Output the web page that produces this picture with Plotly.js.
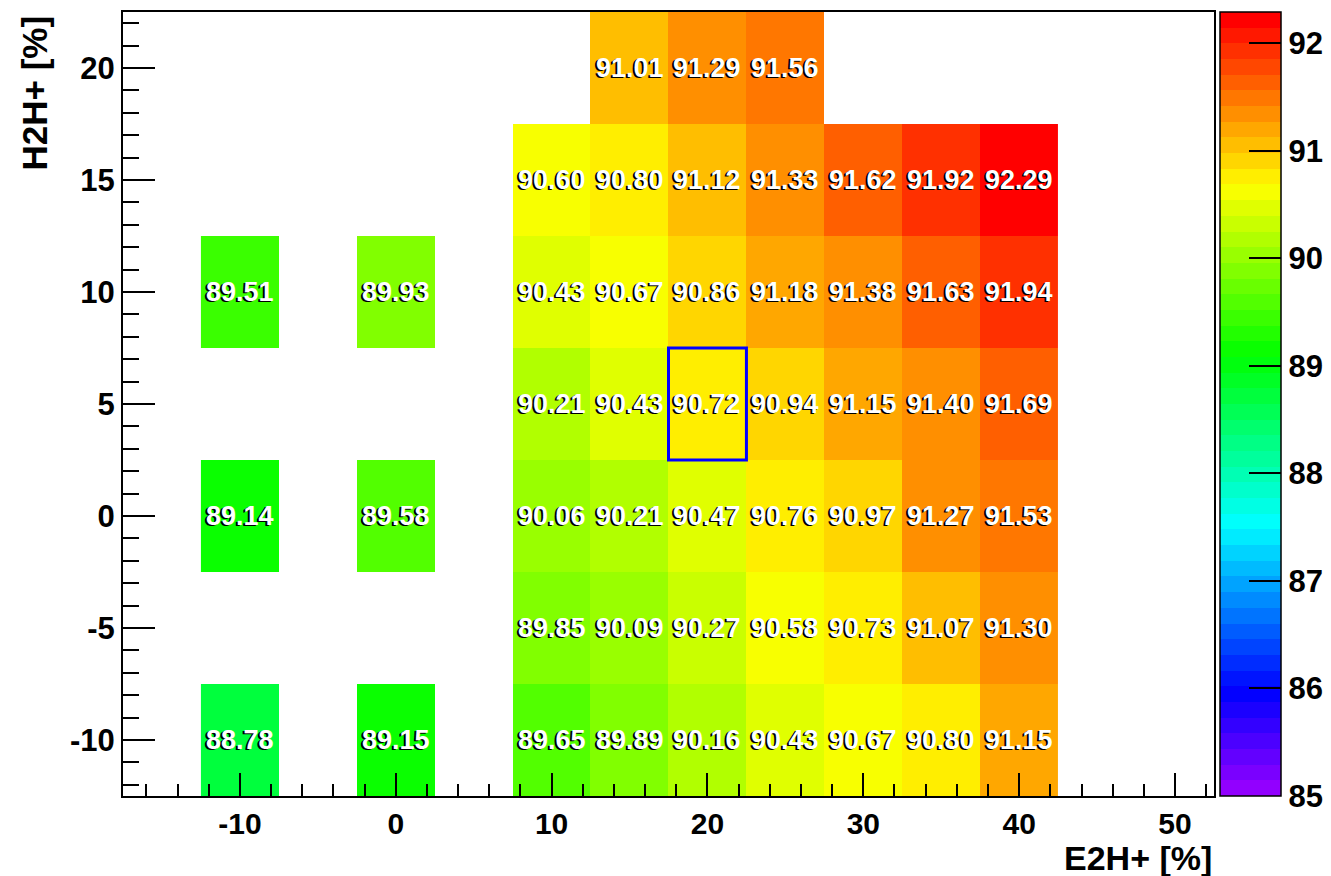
<!DOCTYPE html>
<html>
<head>
<meta charset="utf-8">
<script src="https://cdn.plot.ly/plotly-3.0.1.min.js"></script>
<style>html,body{margin:0;padding:0;background:#fff;}#chart{width:1331px;height:876px;}</style>
</head>
<body>
<div id="chart"></div>
<script>
// E2H+ [%] bin centres
const xVals = [-10, -5, 0, 5, 10, 15, 20, 25, 30, 35, 40];
// H2H+ [%] bin centres
const yVals = [-10, -5, 0, 5, 10, 15, 20];
// values per row (y), columns follow xVals
const rowM10 = [88.78, null, 89.15, null, 89.65, 89.89, 90.16, 90.43, 90.67, 90.80, 91.15];
const rowM5  = [null, null, null, null, 89.85, 90.09, 90.27, 90.58, 90.73, 91.07, 91.30];
const row0   = [89.14, null, 89.58, null, 90.06, 90.21, 90.47, 90.76, 90.97, 91.27, 91.53];
const row5   = [null, null, null, null, 90.21, 90.43, 90.72, 90.94, 91.15, 91.40, 91.69];
const row10  = [89.51, null, 89.93, null, 90.43, 90.67, 90.86, 91.18, 91.38, 91.63, 91.94];
const row15  = [null, null, null, null, 90.60, 90.80, 91.12, 91.33, 91.62, 91.92, 92.29];
const row20  = [null, null, null, null, null, 91.01, 91.29, 91.56, null, null, null];
const zRows = [rowM10, rowM5, row0, row5, row10, row15, row20];
// highlighted cell
const markX = 20, markY = 5;
const xTickVals = [-10, 0, 10, 20, 30, 40, 50];
const xTickText = ['-10', '0', '10', '20', '30', '40', '50'];
const yTickVals = [-10, -5, 0, 5, 10, 15, 20];
const yTickText = ['-10', '-5', '0', '5', '10', '15', '20'];
const zTickVals = [85, 86, 87, 88, 89, 90, 91, 92];
const zMin = 85, zMax = 92.29;

// ROOT "pretty" palette: 50 colours, hue 280 -> 0
function hsl2rgb(h, s, l) {
  const c = (1 - Math.abs(2 * l - 1)) * s;
  const hp = h / 60;
  const x = c * (1 - Math.abs(hp % 2 - 1));
  let r = 0, g = 0, b = 0;
  if (hp < 1) { r = c; g = x; }
  else if (hp < 2) { r = x; g = c; }
  else if (hp < 3) { g = c; b = x; }
  else if (hp < 4) { g = x; b = c; }
  else if (hp < 5) { r = x; b = c; }
  else { r = c; b = x; }
  const m = l - c / 2;
  return 'rgb(' + Math.round((r + m) * 255) + ',' + Math.round((g + m) * 255) + ',' + Math.round((b + m) * 255) + ')';
}
const nCol = 50;
const colorscale = [];
for (let i = 0; i < nCol; i++) {
  const hue = 280 - (i + 1) * (280 / nCol);
  const c = hsl2rgb(hue, 1, 0.5);
  colorscale.push([i / nCol, c]);
  colorscale.push([(i + 1) / nCol, c]);
}

const fontFam = '"Liberation Sans", Arial, Helvetica, sans-serif';

const trace = {
  type: 'heatmap',
  x: xVals, y: yVals, z: zRows,
  colorscale: colorscale,
  zmin: zMin, zmax: zMax,
  hoverongaps: false,
  colorbar: {
    x: 1.0055, xanchor: 'left', xpad: 0, ypad: 0,
    y: 0.5, yanchor: 'middle',
    len: 784, lenmode: 'pixels',
    thickness: 61, thicknessmode: 'pixels',
    outlinewidth: 1.5, outlinecolor: '#000',
    ticks: 'inside', ticklen: 32, tickwidth: 2, tickcolor: '#000',
    tickvals: zTickVals,
    tickfont: {family: fontFam, size: 31, color: '#000', weight: 'bold'}
  }
};

const annotations = [];
for (let r = 0; r < yVals.length; r++) {
  for (let c = 0; c < xVals.length; c++) {
    const v = zRows[r][c];
    if (v === null) continue;
    const t = v.toFixed(2);
    annotations.push({x: xVals[c], y: yVals[r], xref: 'x', yref: 'y', text: t, showarrow: false,
      xshift: -2, yshift: -1,
      font: {family: fontFam, size: 27, color: '#000', weight: 'bold'}});
    annotations.push({x: xVals[c], y: yVals[r], xref: 'x', yref: 'y', text: t, showarrow: false,
      font: {family: fontFam, size: 27, color: '#fff', weight: 'bold'}});
  }
}
annotations.push({xref: 'paper', yref: 'paper', x: 1, y: 0, xanchor: 'right', yanchor: 'middle', yshift: -62,
  text: 'E2H+ [%]', showarrow: false, font: {family: fontFam, size: 34, color: '#000', weight: 'bold'}});
annotations.push({xref: 'paper', yref: 'paper', x: 0, y: 1, xanchor: 'center', yanchor: 'top', xshift: -89, yshift: -2,
  textangle: -90, text: 'H2H+ [%]', showarrow: false, font: {family: fontFam, size: 35, color: '#000', weight: 'bold'}});

const layout = {
  width: 1331, height: 876,
  margin: {l: 123, r: 117, t: 12, b: 80, pad: 0, autoexpand: false},
  paper_bgcolor: '#fff', plot_bgcolor: '#fff',
  font: {family: fontFam, color: '#000'},
  showlegend: false,
  xaxis: {
    range: [-17.5, 52.5], tickvals: xTickVals, ticktext: xTickText, ticks: 'inside', ticklen: 23, tickwidth: 2, tickcolor: '#000',
    minor: {dtick: 2, tick0: 0, ticks: 'inside', ticklen: 12, tickwidth: 2, tickcolor: '#000'},
    showgrid: false, zeroline: false, showline: true, mirror: true, linecolor: '#000', linewidth: 2,
    tickfont: {family: fontFam, size: 30, color: '#000', weight: 'bold'}, fixedrange: true, automargin: false
  },
  yaxis: {
    range: [-12.5, 22.5], tickvals: yTickVals, ticktext: yTickText, ticks: 'inside', ticklen: 32, tickwidth: 2, tickcolor: '#000',
    minor: {dtick: 1, tick0: 0, ticks: 'inside', ticklen: 16, tickwidth: 2, tickcolor: '#000'},
    showgrid: false, zeroline: false, showline: true, mirror: true, linecolor: '#000', linewidth: 2,
    tickfont: {family: fontFam, size: 31, color: '#000', weight: 'bold'}, fixedrange: true, automargin: false
  },
  shapes: [{type: 'rect', xref: 'x', yref: 'y', x0: markX - 2.5, x1: markX + 2.5, y0: markY - 2.5, y1: markY + 2.5,
    line: {color: '#0000ff', width: 3}}],
  annotations: annotations
};

Plotly.newPlot('chart', [trace], layout, {displayModeBar: false, staticPlot: true});
</script>
</body>
</html>
